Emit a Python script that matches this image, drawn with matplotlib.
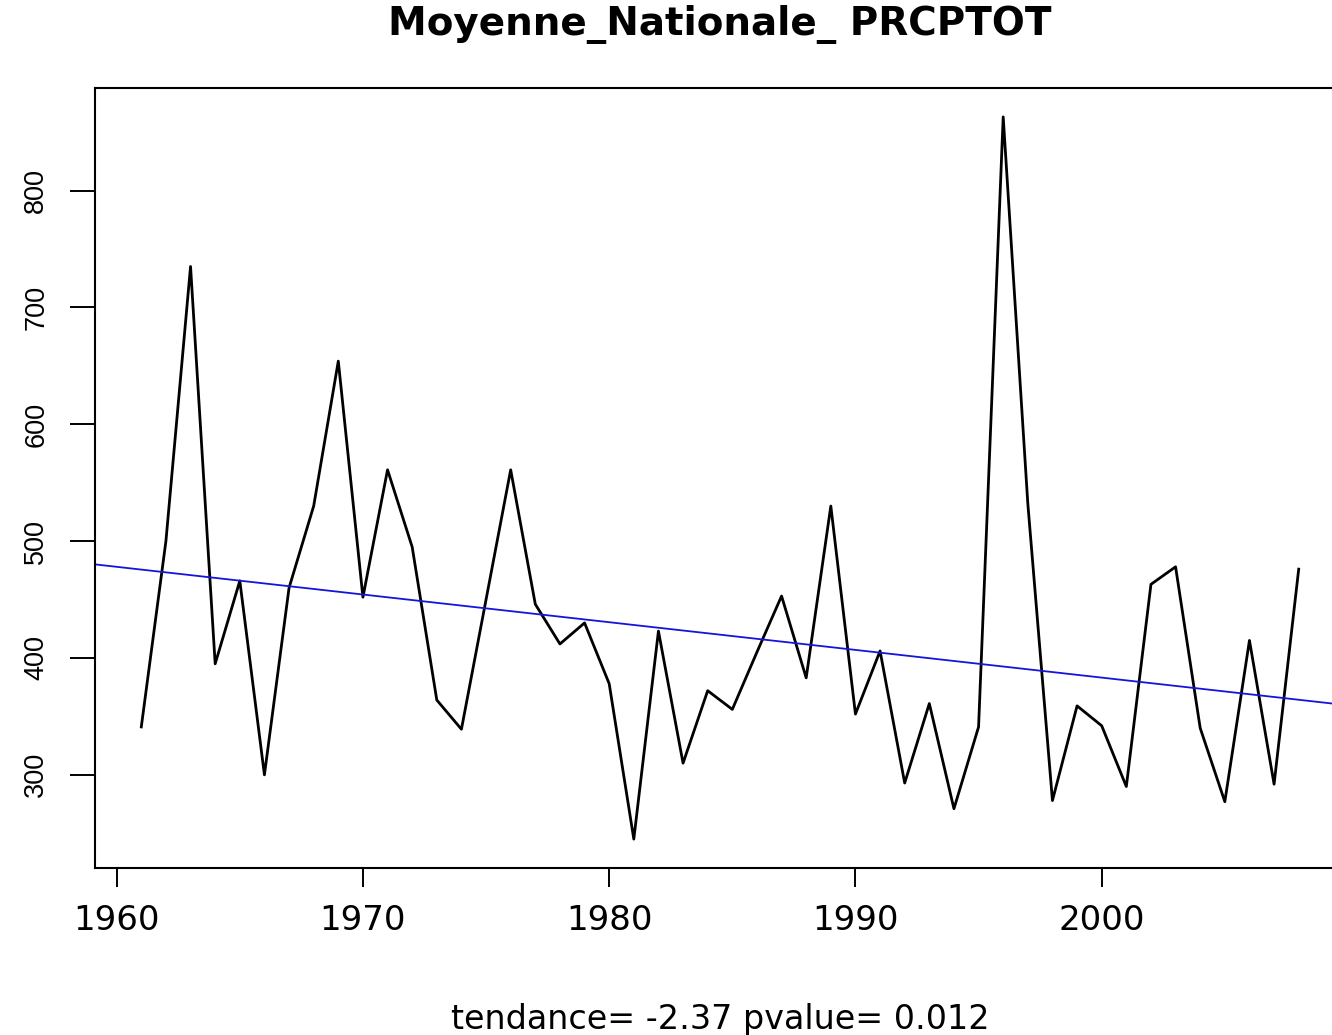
import matplotlib

matplotlib.use("Agg")
import matplotlib.pyplot as plt
import numpy as np

# annual national mean PRCPTOT (mm)
years = list(range(1961, 2009))
prcptot = [
    341, 500, 735, 395, 466, 300, 460, 530, 654, 452,
    561, 495, 364, 339, 450, 561, 446, 412, 430, 378,
    245, 423, 310, 372, 356, 405, 453, 383, 530, 352,
    406, 293, 361, 271, 341, 863, 532, 278, 359, 342,
    290, 463, 478, 340, 277, 415, 292, 476,
]
trend_slope = -2.37
trend_at_1960 = 478
pvalue = 0.012

x_ticks = [1960, 1970, 1980, 1990, 2000]
y_ticks = [300, 400, 500, 600, 700, 800]
title = "Moyenne_Nationale_ PRCPTOT"

plt.rcParams["font.family"] = ["DejaVu Sans"]

W, H = 1332, 1035
fig = plt.figure(figsize=(W / 100, H / 100), dpi=100)
# plot region runs past the right edge, like the cropped original
ax = fig.add_axes([95 / W, 1 - 868 / H, 1250 / W, 780 / H])

yrs = np.array(years)
vals = np.array(prcptot)
ax.plot(yrs, vals, color="black", linewidth=2.0)
ax.axline((1960, trend_at_1960), slope=trend_slope, color="#1414dc", linewidth=1.3)

# R-style 4% padding
xs = yrs.max() - yrs.min()
ys = vals.max() - vals.min()
ax.set_xlim(yrs.min() - 0.04 * xs, yrs.max() + 0.04 * xs)
ax.set_ylim(vals.min() - 0.04 * ys, vals.max() + 0.04 * ys)

ax.set_xticks(x_ticks)
ax.set_yticks(y_ticks)
ax.set_xticklabels([str(t) for t in x_ticks], fontsize=24.5)
ax.set_yticklabels([str(t) for t in y_ticks], fontsize=19.5, rotation=90, va="center",
                   family=["Liberation Sans", "DejaVu Sans"])
ax.tick_params(axis="x", length=14, width=1.4, pad=12, direction="out")
ax.tick_params(axis="y", length=18, width=1.4, pad=15, direction="out")

for sp in ax.spines.values():
    sp.set_linewidth(1.5)

cx = (95 + 1345) / 2 / W
fig.text(cx, 1 - 24 / H, title, ha="center", va="center", fontsize=28, fontweight="bold")
fig.text(cx, 1 - 1020 / H, f"tendance= {trend_slope} pvalue= {pvalue}",
         ha="center", va="center", fontsize=24)

fig.savefig("out.png", dpi=100)
plt.close(fig)
